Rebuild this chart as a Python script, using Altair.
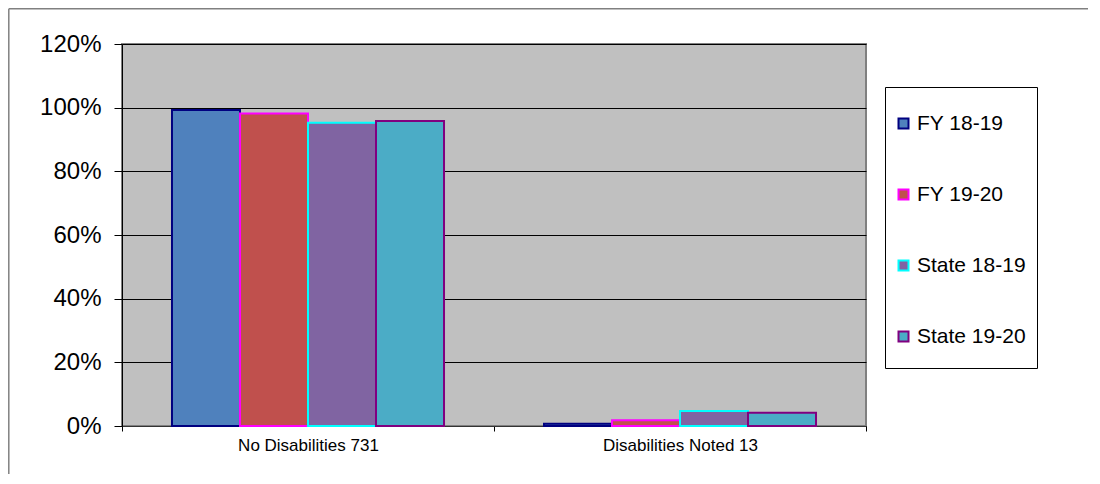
import altair as alt
import pandas as pd

categories = ["No Disabilities 731", "Disabilities Noted 13"]
series = ["FY 18-19", "FY 19-20", "State 18-19", "State 19-20"]
fy_18_19 = [0.993, 0.007]
fy_19_20 = [0.982, 0.018]
state_18_19 = [0.953, 0.047]
state_19_20 = [0.958, 0.042]
y_ticks = [0, 0.2, 0.4, 0.6, 0.8, 1.0, 1.2]

fill_colors = ["#4F81BD", "#C0504D", "#8064A2", "#4BACC6"]
stroke_colors = ["#000080", "#FF00FF", "#00FFFF", "#800080"]

rows = []
for s, vals in zip(series, [fy_18_19, fy_19_20, state_18_19, state_19_20]):
    for c, v in zip(categories, vals):
        rows.append({"category": c, "series": s, "value": v})
df = pd.DataFrame(rows)

FONT = "Liberation Sans"

legend = alt.Legend(
    title=None,
    orient="none",
    legendX=771,
    legendY=69,
    padding=0,
    rowPadding=49,
    symbolType="square",
    symbolSize=100,
    symbolStrokeWidth=2,
    labelFontSize=21,
    labelFont=FONT,
    labelColor="black",
    labelOffset=3,
)

bars = alt.Chart(df).mark_bar(strokeWidth=2).encode(
    x=alt.X(
        "category:N",
        sort=categories,
        scale=alt.Scale(paddingInner=0, paddingOuter=0),
        axis=alt.Axis(
            title=None,
            labelAngle=0,
            tickBand="extent",
            tickSize=5,
            tickColor="black",
            domainColor="#333333",
            labelFontSize=17,
            labelFont=FONT,
            labelColor="black",
            labelPadding=6,
            grid=False,
        ),
    ),
    xOffset=alt.XOffset(
        "series:N", sort=series, scale=alt.Scale(paddingInner=0, paddingOuter=0.735)
    ),
    y=alt.Y(
        "value:Q",
        scale=alt.Scale(domain=[0, 1.2], nice=False),
        axis=alt.Axis(
            title=None,
            values=y_ticks,
            format=".0%",
            tickSize=8,
            tickColor="black",
            domainColor="black",
            labelFontSize=24,
            labelFont=FONT,
            labelColor="black",
            labelPadding=13,
            grid=True,
            gridColor="black",
            gridWidth=1,
            gridOpacity=1,
        ),
    ),
    fill=alt.Fill("series:N", sort=series,
                  scale=alt.Scale(domain=series, range=fill_colors), legend=legend),
    stroke=alt.Stroke("series:N", sort=series,
                      scale=alt.Scale(domain=series, range=stroke_colors), legend=legend),
)

box_df = pd.DataFrame({"k": [1]})
legend_box = alt.Chart(box_df).mark_rect(fill="white", stroke="black", strokeWidth=1).encode(
    x=alt.value(763.5), x2=alt.value(915.5), y=alt.value(43.5), y2=alt.value(324.5)
)
outer_top = alt.Chart(box_df).mark_rule(stroke="#808080", strokeWidth=1.5).encode(
    x=alt.value(-113.2), x2=alt.value(1000), y=alt.value(-35.2)
)
outer_left = alt.Chart(box_df).mark_rule(stroke="#808080", strokeWidth=1.5).encode(
    x=alt.value(-113.2), y=alt.value(-35.2), y2=alt.value(500)
)

chart = alt.layer(outer_top, outer_left, legend_box, bars).properties(
    width=744,
    height=382,
    autosize=alt.AutoSizeParams(type="none"),
    padding={"left": 114, "top": 36, "right": 222, "bottom": 48},
    background="white",
).configure_view(
    fill="#C0C0C0",
    stroke="#808080",
    strokeWidth=2,
)

chart.save("out.html", embed_options={"renderer": "svg", "actions": False})
